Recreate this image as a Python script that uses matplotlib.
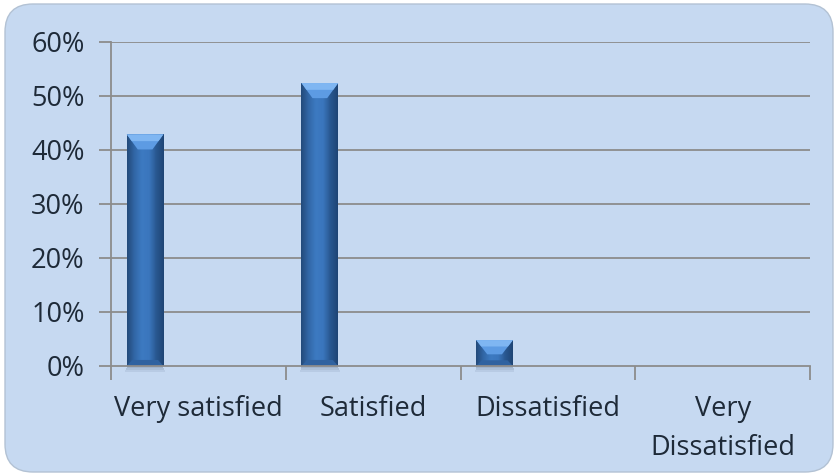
import matplotlib.pyplot as plt
import numpy as np
from matplotlib.patches import FancyBboxPatch, Polygon
from matplotlib.colors import LinearSegmentedColormap

# satisfaction survey results
categories = ["Very satisfied", "Satisfied", "Dissatisfied", "Very\nDissatisfied"]
shares = [42.9, 52.4, 4.8, 0.0]
yticks = [0, 10, 20, 30, 40, 50, 60]

plt.rcParams['font.family'] = ['Open Sans', 'DejaVu Sans']

TEXT = "#1e2a38"
GRID = "#8c8c8c"

fig = plt.figure(figsize=(8.36, 4.76), dpi=100)
fig.patch.set_facecolor("white")

# rounded chart background on its own axes, behind everything
bg_ax = fig.add_axes([0, 0, 1, 1], zorder=-1)
bg_ax.set_axis_off()
bg_ax.set_xlim(0, 836)
bg_ax.set_ylim(0, 476)
bg = FancyBboxPatch((5, 4), 828, 468,
                    boxstyle="round,pad=0,rounding_size=28",
                    facecolor="#c6d9f1", edgecolor="#b3c2d4", linewidth=1.0)
bg_ax.add_patch(bg)

ax = fig.add_axes([0.1328, 0.2311, 0.8361, 0.6807], zorder=1)
ax.set_facecolor("none")

x = np.arange(len(categories))
offset = -0.305
width = 0.21

for y in yticks[1:]:
    ax.axhline(y, color=GRID, linewidth=1.3, zorder=1)

# horizontal shading across the bar face
cmap = LinearSegmentedColormap.from_list(
    "bar", ["#29578f", "#3874bc", "#4285d3", "#3e7dc8", "#2a5a94", "#1f4575"])
grad = np.linspace(0, 1, 64).reshape(1, -1)
vert = np.linspace(0.86, 1.0, 64).reshape(-1, 1)

bars = ax.bar(x + offset, shares, width, color="#3a75bb", zorder=3,
              linewidth=0)
for b, h in zip(bars, shares):
    if h <= 0:
        continue
    x0 = b.get_x()
    w = b.get_width()
    x1 = x0 + w
    # soft drop shadow under the bar
    for k, a in enumerate([0.22, 0.15, 0.08]):
        ax.bar(x0 + w / 2, 0.35, w * (1.0 + 0.04 * k), bottom=-0.35 * (k + 1),
               color="#1d3350", alpha=a, zorder=2, linewidth=0, clip_on=False)
    rgba = cmap(np.repeat(grad, 64, axis=0))
    rgba[..., :3] *= vert
    im = ax.imshow(rgba, extent=(x0, x1, 0, h), aspect="auto",
                   origin="lower", zorder=4, interpolation="bilinear")
    im.set_clip_path(b)
    # bevelled top
    depth = min(2.8, h * 0.55)
    inset = w * 0.3
    top = Polygon([(x0, h), (x1, h), (x1 - inset, h - depth),
                   (x0 + inset, h - depth)], closed=True,
                  facecolor="#5d9be3", edgecolor="none", zorder=5)
    ax.add_patch(top)
    top_edge = Polygon([(x0, h), (x1, h), (x1 - inset * 0.45, h - depth * 0.45),
                        (x0 + inset * 0.45, h - depth * 0.45)], closed=True,
                       facecolor="#7fb6f2", edgecolor="none", zorder=5)
    ax.add_patch(top_edge)
    # bevelled bottom
    bot = Polygon([(x0, 0), (x1, 0), (x1 - inset * 0.5, depth * 0.4),
                   (x0 + inset * 0.5, depth * 0.4)], closed=True,
                  facecolor="#2f62a0", edgecolor="none", zorder=5)
    ax.add_patch(bot)

ax.set_xlim(-0.5, len(categories) - 0.5)
ax.set_ylim(0, 60)
ax.set_yticks(yticks)
ax.set_yticklabels([f"{v}%" for v in yticks])
ax.set_xticks(np.arange(len(categories) + 1) - 0.5)
ax.set_xticklabels([])
ax.set_xticks(x, minor=True)
ax.set_xticklabels(categories, minor=True, linespacing=1.5)
ax.tick_params(axis="x", which="minor", length=0, pad=21,
               labelsize=19.5, labelcolor=TEXT)
ax.tick_params(axis="x", which="major", length=10, width=1.3,
               color=GRID, direction="out")
ax.tick_params(axis="y", length=9, width=1.3, color=GRID,
               labelsize=19.5, labelcolor=TEXT, pad=10)

for side in ("top", "right"):
    ax.spines[side].set_visible(False)
for side in ("left", "bottom"):
    ax.spines[side].set_color(GRID)
    ax.spines[side].set_linewidth(1.3)
    ax.spines[side].set_zorder(6)

fig.savefig("out.png", dpi=100, facecolor=fig.get_facecolor())
